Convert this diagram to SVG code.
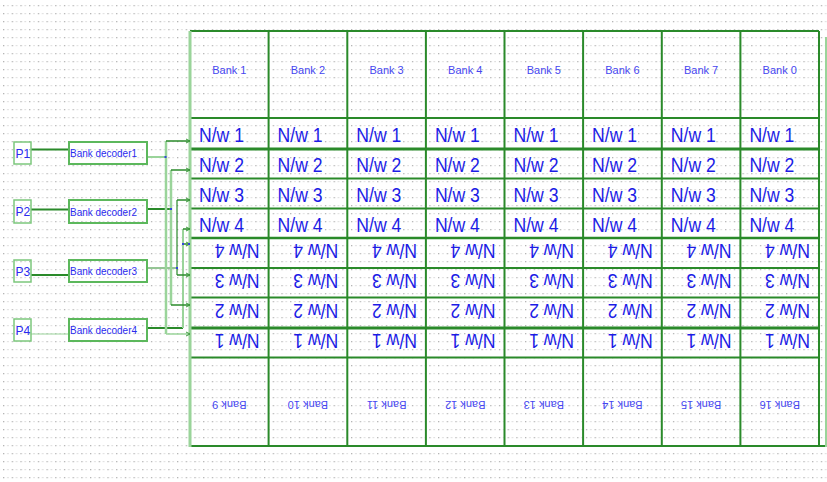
<svg xmlns="http://www.w3.org/2000/svg" width="827" height="482" viewBox="0 0 827 482">
<defs>
<pattern id="dots" x="3" y="5" width="8.7" height="8" patternUnits="userSpaceOnUse">
<rect x="0" y="0" width="1.3" height="1.3" fill="#b4b4b4"/>
<rect x="4.3" y="0" width="1.2" height="1.2" fill="#d2d2d2"/>
</pattern>
<marker id="arr" markerWidth="6" markerHeight="6" refX="5" refY="3" orient="auto" markerUnits="userSpaceOnUse">
<path d="M1,1 L5,3 L1,5" fill="none" stroke="#3a9a3a" stroke-width="1"/>
</marker>
<style>
.bl{font-family:"Liberation Sans",Arial,sans-serif;font-size:11px;fill:#4646f0;text-anchor:middle}
.nw{font-family:"Liberation Sans",Arial,sans-serif;font-size:19.5px;fill:#1c1ce6}
.pl{font-family:"Liberation Sans",Arial,sans-serif;font-size:12px;fill:#2a2aee}
.dl{font-family:"Liberation Sans",Arial,sans-serif;font-size:11.5px;fill:#2a2aee}
.box{fill:none;stroke:#5cb85c;stroke-width:2}
.pbox{fill:none;stroke:#7cc77c;stroke-width:1.5}
.dk{stroke:#2a8a2a;fill:none}
.lt{stroke:#9ad49a;fill:none}
.jn{fill:#3344dd}
</style>
</defs>
<rect width="827" height="482" fill="#ffffff"/>
<rect width="827" height="482" fill="url(#dots)"/>

<g id="table">
<g class="dk">
<line x1="190" y1="31" x2="819" y2="31" stroke-width="2"/>
<line x1="190" y1="118" x2="819" y2="118" stroke-width="2"/>
<line x1="190" y1="149" x2="819" y2="149" stroke-width="3"/>
<line x1="190" y1="178.5" x2="819" y2="178.5" stroke-width="2"/>
<line x1="190" y1="208.5" x2="819" y2="208.5" stroke-width="2"/>
<line x1="190" y1="238" x2="819" y2="238" stroke-width="2.5"/>
<line x1="190" y1="268" x2="819" y2="268" stroke-width="2"/>
<line x1="190" y1="297.5" x2="819" y2="297.5" stroke-width="2"/>
<line x1="190" y1="328" x2="819" y2="328" stroke-width="3"/>
<line x1="190" y1="357.5" x2="819" y2="357.5" stroke-width="2"/>
<line x1="190" y1="446" x2="826" y2="446" stroke-width="2"/>
<line x1="268.6" y1="31" x2="268.6" y2="446" stroke-width="2"/>
<line x1="347.3" y1="31" x2="347.3" y2="446" stroke-width="2"/>
<line x1="425.9" y1="31" x2="425.9" y2="446" stroke-width="2"/>
<line x1="504.5" y1="31" x2="504.5" y2="446" stroke-width="2"/>
<line x1="583.1" y1="31" x2="583.1" y2="446" stroke-width="2"/>
<line x1="661.8" y1="31" x2="661.8" y2="446" stroke-width="2"/>
<line x1="740.4" y1="31" x2="740.4" y2="446" stroke-width="2"/>
<line x1="819" y1="31" x2="819" y2="446" stroke-width="2"/>
</g>
<line class="lt" x1="190" y1="31" x2="190" y2="447" stroke-width="3"/>
<line class="lt" x1="826" y1="37" x2="826" y2="447" stroke-width="2"/>
</g>

<g id="bank-top">
<text class="bl" x="229.3" y="74">Bank 1</text>
<text class="bl" x="307.9" y="74">Bank 2</text>
<text class="bl" x="386.6" y="74">Bank 3</text>
<text class="bl" x="465.2" y="74">Bank 4</text>
<text class="bl" x="543.8" y="74">Bank 5</text>
<text class="bl" x="622.4" y="74">Bank 6</text>
<text class="bl" x="701.1" y="74">Bank 7</text>
<text class="bl" x="779.7" y="74">Bank 0</text>
</g>

<g id="bank-bottom">
<text class="bl" x="229.3" y="401" transform="rotate(180 229.3 401)">Bank 9</text>
<text class="bl" x="307.9" y="401" transform="rotate(180 307.9 401)">Bank 10</text>
<text class="bl" x="386.6" y="401" transform="rotate(180 386.6 401)">Bank 11</text>
<text class="bl" x="465.2" y="401" transform="rotate(180 465.2 401)">Bank 12</text>
<text class="bl" x="543.8" y="401" transform="rotate(180 543.8 401)">Bank 13</text>
<text class="bl" x="622.4" y="401" transform="rotate(180 622.4 401)">Bank 14</text>
<text class="bl" x="701.1" y="401" transform="rotate(180 701.1 401)">Bank 15</text>
<text class="bl" x="779.7" y="401" transform="rotate(180 779.7 401)">Bank 16</text>
</g>

<g id="nw-top">
<text class="nw" x="199" y="142" textLength="45" lengthAdjust="spacingAndGlyphs">N/w 1</text>
<text class="nw" x="277.6" y="142" textLength="45" lengthAdjust="spacingAndGlyphs">N/w 1</text>
<text class="nw" x="356.3" y="142" textLength="45" lengthAdjust="spacingAndGlyphs">N/w 1</text>
<text class="nw" x="434.9" y="142" textLength="45" lengthAdjust="spacingAndGlyphs">N/w 1</text>
<text class="nw" x="513.5" y="142" textLength="45" lengthAdjust="spacingAndGlyphs">N/w 1</text>
<text class="nw" x="592.1" y="142" textLength="45" lengthAdjust="spacingAndGlyphs">N/w 1</text>
<text class="nw" x="670.8" y="142" textLength="45" lengthAdjust="spacingAndGlyphs">N/w 1</text>
<text class="nw" x="749.4" y="142" textLength="45" lengthAdjust="spacingAndGlyphs">N/w 1</text>
<text class="nw" x="199" y="172" textLength="45" lengthAdjust="spacingAndGlyphs">N/w 2</text>
<text class="nw" x="277.6" y="172" textLength="45" lengthAdjust="spacingAndGlyphs">N/w 2</text>
<text class="nw" x="356.3" y="172" textLength="45" lengthAdjust="spacingAndGlyphs">N/w 2</text>
<text class="nw" x="434.9" y="172" textLength="45" lengthAdjust="spacingAndGlyphs">N/w 2</text>
<text class="nw" x="513.5" y="172" textLength="45" lengthAdjust="spacingAndGlyphs">N/w 2</text>
<text class="nw" x="592.1" y="172" textLength="45" lengthAdjust="spacingAndGlyphs">N/w 2</text>
<text class="nw" x="670.8" y="172" textLength="45" lengthAdjust="spacingAndGlyphs">N/w 2</text>
<text class="nw" x="749.4" y="172" textLength="45" lengthAdjust="spacingAndGlyphs">N/w 2</text>
<text class="nw" x="199" y="202" textLength="45" lengthAdjust="spacingAndGlyphs">N/w 3</text>
<text class="nw" x="277.6" y="202" textLength="45" lengthAdjust="spacingAndGlyphs">N/w 3</text>
<text class="nw" x="356.3" y="202" textLength="45" lengthAdjust="spacingAndGlyphs">N/w 3</text>
<text class="nw" x="434.9" y="202" textLength="45" lengthAdjust="spacingAndGlyphs">N/w 3</text>
<text class="nw" x="513.5" y="202" textLength="45" lengthAdjust="spacingAndGlyphs">N/w 3</text>
<text class="nw" x="592.1" y="202" textLength="45" lengthAdjust="spacingAndGlyphs">N/w 3</text>
<text class="nw" x="670.8" y="202" textLength="45" lengthAdjust="spacingAndGlyphs">N/w 3</text>
<text class="nw" x="749.4" y="202" textLength="45" lengthAdjust="spacingAndGlyphs">N/w 3</text>
<text class="nw" x="199" y="232" textLength="45" lengthAdjust="spacingAndGlyphs">N/w 4</text>
<text class="nw" x="277.6" y="232" textLength="45" lengthAdjust="spacingAndGlyphs">N/w 4</text>
<text class="nw" x="356.3" y="232" textLength="45" lengthAdjust="spacingAndGlyphs">N/w 4</text>
<text class="nw" x="434.9" y="232" textLength="45" lengthAdjust="spacingAndGlyphs">N/w 4</text>
<text class="nw" x="513.5" y="232" textLength="45" lengthAdjust="spacingAndGlyphs">N/w 4</text>
<text class="nw" x="592.1" y="232" textLength="45" lengthAdjust="spacingAndGlyphs">N/w 4</text>
<text class="nw" x="670.8" y="232" textLength="45" lengthAdjust="spacingAndGlyphs">N/w 4</text>
<text class="nw" x="749.4" y="232" textLength="45" lengthAdjust="spacingAndGlyphs">N/w 4</text>
</g>

<g id="nw-flipped">
<text class="nw" x="259.6" y="244" transform="rotate(180 259.6 244)" textLength="45" lengthAdjust="spacingAndGlyphs">N/w 4</text>
<text class="nw" x="338.3" y="244" transform="rotate(180 338.3 244)" textLength="45" lengthAdjust="spacingAndGlyphs">N/w 4</text>
<text class="nw" x="416.9" y="244" transform="rotate(180 416.9 244)" textLength="45" lengthAdjust="spacingAndGlyphs">N/w 4</text>
<text class="nw" x="495.5" y="244" transform="rotate(180 495.5 244)" textLength="45" lengthAdjust="spacingAndGlyphs">N/w 4</text>
<text class="nw" x="574.1" y="244" transform="rotate(180 574.1 244)" textLength="45" lengthAdjust="spacingAndGlyphs">N/w 4</text>
<text class="nw" x="652.8" y="244" transform="rotate(180 652.8 244)" textLength="45" lengthAdjust="spacingAndGlyphs">N/w 4</text>
<text class="nw" x="731.4" y="244" transform="rotate(180 731.4 244)" textLength="45" lengthAdjust="spacingAndGlyphs">N/w 4</text>
<text class="nw" x="810" y="244" transform="rotate(180 810 244)" textLength="45" lengthAdjust="spacingAndGlyphs">N/w 4</text>
<text class="nw" x="259.6" y="274" transform="rotate(180 259.6 274)" textLength="45" lengthAdjust="spacingAndGlyphs">N/w 3</text>
<text class="nw" x="338.3" y="274" transform="rotate(180 338.3 274)" textLength="45" lengthAdjust="spacingAndGlyphs">N/w 3</text>
<text class="nw" x="416.9" y="274" transform="rotate(180 416.9 274)" textLength="45" lengthAdjust="spacingAndGlyphs">N/w 3</text>
<text class="nw" x="495.5" y="274" transform="rotate(180 495.5 274)" textLength="45" lengthAdjust="spacingAndGlyphs">N/w 3</text>
<text class="nw" x="574.1" y="274" transform="rotate(180 574.1 274)" textLength="45" lengthAdjust="spacingAndGlyphs">N/w 3</text>
<text class="nw" x="652.8" y="274" transform="rotate(180 652.8 274)" textLength="45" lengthAdjust="spacingAndGlyphs">N/w 3</text>
<text class="nw" x="731.4" y="274" transform="rotate(180 731.4 274)" textLength="45" lengthAdjust="spacingAndGlyphs">N/w 3</text>
<text class="nw" x="810" y="274" transform="rotate(180 810 274)" textLength="45" lengthAdjust="spacingAndGlyphs">N/w 3</text>
<text class="nw" x="259.6" y="304" transform="rotate(180 259.6 304)" textLength="45" lengthAdjust="spacingAndGlyphs">N/w 2</text>
<text class="nw" x="338.3" y="304" transform="rotate(180 338.3 304)" textLength="45" lengthAdjust="spacingAndGlyphs">N/w 2</text>
<text class="nw" x="416.9" y="304" transform="rotate(180 416.9 304)" textLength="45" lengthAdjust="spacingAndGlyphs">N/w 2</text>
<text class="nw" x="495.5" y="304" transform="rotate(180 495.5 304)" textLength="45" lengthAdjust="spacingAndGlyphs">N/w 2</text>
<text class="nw" x="574.1" y="304" transform="rotate(180 574.1 304)" textLength="45" lengthAdjust="spacingAndGlyphs">N/w 2</text>
<text class="nw" x="652.8" y="304" transform="rotate(180 652.8 304)" textLength="45" lengthAdjust="spacingAndGlyphs">N/w 2</text>
<text class="nw" x="731.4" y="304" transform="rotate(180 731.4 304)" textLength="45" lengthAdjust="spacingAndGlyphs">N/w 2</text>
<text class="nw" x="810" y="304" transform="rotate(180 810 304)" textLength="45" lengthAdjust="spacingAndGlyphs">N/w 2</text>
<text class="nw" x="259.6" y="334" transform="rotate(180 259.6 334)" textLength="45" lengthAdjust="spacingAndGlyphs">N/w 1</text>
<text class="nw" x="338.3" y="334" transform="rotate(180 338.3 334)" textLength="45" lengthAdjust="spacingAndGlyphs">N/w 1</text>
<text class="nw" x="416.9" y="334" transform="rotate(180 416.9 334)" textLength="45" lengthAdjust="spacingAndGlyphs">N/w 1</text>
<text class="nw" x="495.5" y="334" transform="rotate(180 495.5 334)" textLength="45" lengthAdjust="spacingAndGlyphs">N/w 1</text>
<text class="nw" x="574.1" y="334" transform="rotate(180 574.1 334)" textLength="45" lengthAdjust="spacingAndGlyphs">N/w 1</text>
<text class="nw" x="652.8" y="334" transform="rotate(180 652.8 334)" textLength="45" lengthAdjust="spacingAndGlyphs">N/w 1</text>
<text class="nw" x="731.4" y="334" transform="rotate(180 731.4 334)" textLength="45" lengthAdjust="spacingAndGlyphs">N/w 1</text>
<text class="nw" x="810" y="334" transform="rotate(180 810 334)" textLength="45" lengthAdjust="spacingAndGlyphs">N/w 1</text>
</g>

<g id="connectors">
<line class="dk" x1="31" y1="149.5" x2="69" y2="149.5" stroke-width="2"/>
<line class="dk" x1="31" y1="209.5" x2="69" y2="209.5" stroke-width="2"/>
<line class="dk" x1="31" y1="275" x2="69" y2="275" stroke-width="2"/>
<line class="lt" x1="31" y1="334" x2="69" y2="334" stroke-width="1"/>
<line class="lt" x1="147" y1="157" x2="166" y2="157" stroke-width="2"/>
<line class="dk" x1="147" y1="209" x2="171" y2="209" stroke-width="2"/>
<line class="dk" x1="147" y1="268" x2="177" y2="268" stroke-width="1"/>
<line class="dk" x1="147" y1="328" x2="183" y2="328" stroke-width="2"/>
<line class="lt" x1="166" y1="141" x2="166" y2="334" stroke-width="2.5"/>
<line class="lt" x1="171" y1="170" x2="171" y2="305" stroke-width="2.5"/>
<line class="dk" x1="177" y1="200" x2="177" y2="275" stroke-width="1.2"/>
<line class="lt" x1="183" y1="229" x2="183" y2="328" stroke-width="2"/>
<line class="dk" x1="166" y1="141" x2="190" y2="141" stroke-width="1.5" marker-end="url(#arr)"/>
<line class="dk" x1="171" y1="170" x2="190" y2="170" stroke-width="1.5" marker-end="url(#arr)"/>
<line class="dk" x1="177" y1="200" x2="190" y2="200" stroke-width="1.5" marker-end="url(#arr)"/>
<line class="dk" x1="183" y1="229" x2="190" y2="229" stroke-width="1.5" marker-end="url(#arr)"/>
<line class="dk" x1="183" y1="244" x2="190" y2="244" stroke-width="1.5" marker-end="url(#arr)"/>
<line class="dk" x1="177" y1="275" x2="190" y2="275" stroke-width="1.5" marker-end="url(#arr)"/>
<line class="dk" x1="171" y1="305" x2="190" y2="305" stroke-width="1.5" marker-end="url(#arr)"/>
<line class="lt" x1="166" y1="334" x2="190" y2="334" stroke-width="1.5" marker-end="url(#arr)"/>
<rect class="jn" x="164.5" y="156" width="2" height="2"/>
<rect class="jn" x="170" y="208" width="2" height="2"/>
<rect class="jn" x="176" y="267" width="2" height="2"/>
<rect class="jn" x="182" y="243" width="2" height="2"/>
<rect class="jn" x="188" y="243" width="2" height="2"/>
</g>

<g id="P1"><rect class="pbox" x="14" y="142" width="17" height="22"/><text class="pl" x="15.5" y="158">P1</text></g>
<g id="P2"><rect class="pbox" x="14" y="200" width="17" height="23"/><text class="pl" x="15.5" y="216">P2</text></g>
<g id="P3"><rect class="pbox" x="14" y="260" width="17" height="22"/><text class="pl" x="15.5" y="276">P3</text></g>
<g id="P4"><rect class="pbox" x="14" y="319" width="17" height="22"/><text class="pl" x="15.5" y="335">P4</text></g>

<g id="decoder1"><rect class="box" x="69" y="142" width="78" height="22"/><text class="dl" x="70" y="157" textLength="67" lengthAdjust="spacingAndGlyphs">Bank decoder1</text></g>
<g id="decoder2"><rect class="box" x="69" y="200" width="78" height="23"/><text class="dl" x="70" y="215.5" textLength="67" lengthAdjust="spacingAndGlyphs">Bank decoder2</text></g>
<g id="decoder3"><rect class="box" x="69" y="260" width="78" height="22"/><text class="dl" x="70" y="275" textLength="67" lengthAdjust="spacingAndGlyphs">Bank decoder3</text></g>
<g id="decoder4"><rect class="box" x="69" y="319" width="78" height="22"/><text class="dl" x="70" y="334" textLength="67" lengthAdjust="spacingAndGlyphs">Bank decoder4</text></g>
</svg>
